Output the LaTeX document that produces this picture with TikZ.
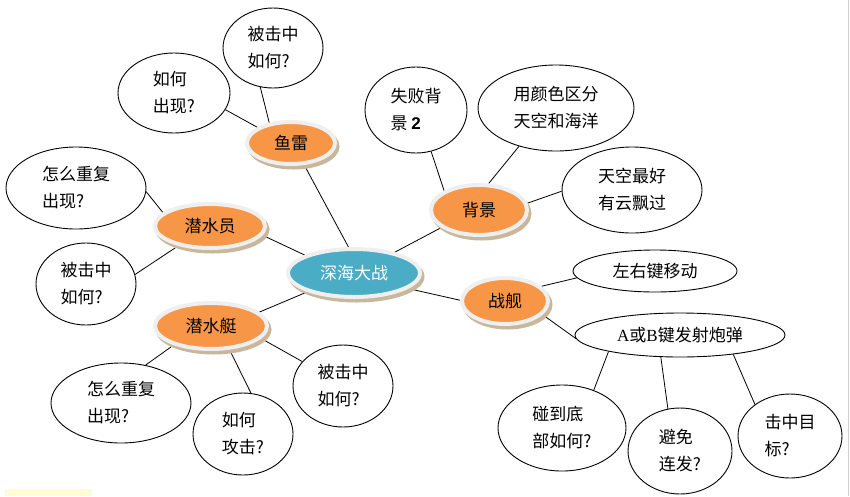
\documentclass[tikz,border=0pt]{standalone}
\usepackage{fontspec}
\setmainfont{Liberation Serif}
\newfontfamily\cjk{Noto Sans CJK SC}
\newfontfamily\lsans{Liberation Sans}
\usetikzlibrary{shapes.geometric,backgrounds}
\definecolor{orgc}{HTML}{F79646}
\definecolor{bluec}{HTML}{4BACC6}
\definecolor{rimc}{HTML}{EFEFEF}
\definecolor{shadc}{HTML}{C9B79C}
\tikzset{
 base/.style={ellipse, inner sep=0pt, font=\cjk\fontsize{17}{27}\selectfont, align=left},
 idea/.style={base, draw=black, line width=0.9pt, fill=white},
 topic/.style={base, fill=orgc, draw=rimc, line width=4pt,
   preaction={draw=shadc, fill=shadc, line width=4pt, transform canvas={xshift=2.5pt,yshift=-3.5pt}}},
 hub/.style={topic, fill=bluec, text=white},
 link/.style={draw=black, line width=0.8pt}
}
\begin{document}
\begin{tikzpicture}[x=1pt,y=1pt]
\useasboundingbox (0,0) rectangle (850,-496);
\node[idea, minimum width=100pt, minimum height=80pt] (hitTop) at (273,-48) {被击中\\如何?};
\node[idea, minimum width=112pt, minimum height=80pt] (appear) at (174,-93) {如何\\出现?};
\node[topic, minimum width=88pt, minimum height=42pt] (yulei) at (291,-143) {鱼雷};
\node[idea, minimum width=140pt, minimum height=82pt] (repTop) at (76,-188) {怎么重复\\出现?};
\node[topic, minimum width=110pt, minimum height=44pt] (diver) at (210,-226) {潜水员};
\node[idea, minimum width=100pt, minimum height=82pt] (hitLeft) at (86,-284) {被击中\\如何?};
\node[hub, minimum width=132pt, minimum height=48pt] (hub) at (354,-273) {深海大战};
\node[topic, minimum width=112pt, minimum height=46pt] (sub) at (211,-326) {潜水艇};
\node[idea, minimum width=140pt, minimum height=80pt] (repBot) at (121,-403) {怎么重复\\出现?};
\node[idea, minimum width=100pt, minimum height=82pt] (attack) at (243,-434) {如何\\攻击?};
\node[idea, minimum width=100pt, minimum height=82pt] (hitBot) at (343,-386) {被击中\\如何?};
\node[idea, minimum width=102pt, minimum height=86pt] (fail) at (416,-110) {失败背\\景 {\lsans\bfseries 2}};
\node[idea, minimum width=156pt, minimum height=86pt] (color) at (556,-108) {用颜色区分\\天空和海洋};
\node[topic, minimum width=96pt, minimum height=50pt] (bg) at (479,-210) {背景};
\node[idea, minimum width=140pt, minimum height=86pt] (sky) at (632,-190) {天空最好\\有云飘过};
\node[topic, minimum width=86pt, minimum height=46pt] (ship) at (505,-301) {战舰};
\node[idea, minimum width=164pt, minimum height=42pt] (move) at (655,-271) {左右键移动};
\node[idea, minimum width=210pt, minimum height=44pt] (fire) at (680,-335) {{\rmfamily A}或{\rmfamily B}键发射炮弹};
\node[idea, minimum width=128pt, minimum height=86pt] (floor) at (562,-428) {碰到底\\部如何?};
\node[idea, minimum width=104pt, minimum height=86pt] (avoid) at (680,-451) {避免\\连发?};
\node[idea, minimum width=104pt, minimum height=84pt] (target) at (790,-436) {击中目\\标?};
\begin{pgfonlayer}{background}
\fill[white] (0,0) rectangle (850,-496);
\fill[yellow!18] (5,-489) rectangle (92,-496);
\draw[gray!35] (848.5,0) -- (848.5,-496);
\draw[link] (hitTop.252) -- (yulei.137);
\draw[link] (appear.342) -- (yulei.155);
\draw[link] (yulei.301) -- (hub.102);
\draw[link] (repTop.357) -- (diver.164);
\draw[link] (diver.350) -- (hub.160);
\draw[link] (hitLeft.11) -- (diver.212);
\draw[link] (sub.16) -- (hub.202);
\draw[link] (sub.207) -- (repBot.57);
\draw[link] (sub.308) -- (attack.79);
\draw[link] (sub.346) -- (hitBot.149);
\draw[link] (fail.290) -- (bg.151);
\draw[link] (color.226) -- (bg.70);
\draw[link] (sky.181) -- (bg.8);
\draw[link] (hub.27) -- (bg.205);
\draw[link] (hub.344) -- (ship.179);
\draw[link] (ship.22) -- (move.185);
\draw[link] (ship.340) -- (fire.182);
\draw[link] (fire.193) -- (floor.50);
\draw[link] (fire.229) -- (avoid.106);
\draw[link] (fire.340) -- (target.138);
\end{pgfonlayer}
\end{tikzpicture}
\end{document}
